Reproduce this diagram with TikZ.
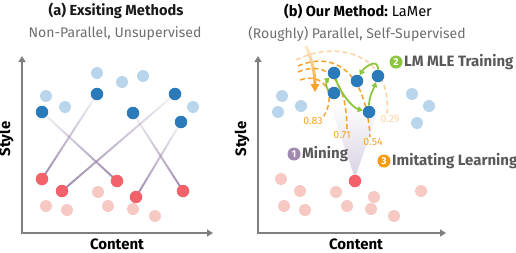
\documentclass[tikz,border=0pt]{standalone}
\usepackage{fontspec}
\setmainfont{Fira Sans}
\usetikzlibrary{arrows.meta,fadings,calc}
\definecolor{dblue}{HTML}{2B7BBA}
\definecolor{lblue}{HTML}{B9D5EC}
\definecolor{dred}{HTML}{F3616B}
\definecolor{pink}{HTML}{F7C9C3}
\definecolor{axgray}{HTML}{7F7F7F}
\definecolor{conn}{HTML}{9B86AE}
\definecolor{orA}{HTML}{F5A32A}
\definecolor{orL}{HTML}{FDD3A2}
\definecolor{grn}{HTML}{8CC63F}
\definecolor{purc}{HTML}{A08AB0}
\definecolor{orc}{HTML}{F39C12}
\definecolor{lblgray}{HTML}{595959}
\definecolor{subgray}{HTML}{6E6E6E}
\definecolor{lav}{HTML}{D8D2E2}
\tikzfading[name=fadeconn, top color=transparent!92, bottom color=transparent!0]
\tikzfading[name=fadearr, top color=transparent!80, bottom color=transparent!0]
\begin{document}
\begin{tikzpicture}[x=1pt,y=-1pt,
  dotd/.style={circle,fill=dblue,minimum size=12.5pt,inner sep=0pt},
  dotl/.style={circle,fill=lblue,minimum size=12pt,inner sep=0pt},
  dotr/.style={circle,fill=dred,minimum size=12.5pt,inner sep=0pt},
  dotp/.style={circle,fill=pink,minimum size=12pt,inner sep=0pt},
  axisline/.style={draw=axgray,line width=2pt,{Triangle[length=6pt,width=7pt]}-{Triangle[length=6pt,width=7pt]}},
  axlabel/.style={font=\fontsize{15}{15}\selectfont\bfseries,text=black,inner sep=0pt},
  ttl/.style={font=\fontsize{14.6}{15}\selectfont\bfseries,text=black!90,inner sep=0pt},
  subttl/.style={font=\fontsize{14}{14}\selectfont,text=subgray,inner sep=0pt},
  connector/.style={draw=conn,line width=2pt,path fading=fadeconn},
  garrow/.style={draw=grn,line width=1.8pt,-{Triangle[length=5pt,width=6pt]}},
  oarc/.style={draw=orA,line width=1.5pt,dash pattern=on 5pt off 3pt},
  oarcl/.style={draw=orL,line width=1.5pt,dash pattern=on 5pt off 3pt},
  score/.style={font=\fontsize{10.5}{10.5}\selectfont,text=orA,inner sep=0pt},
  numc/.style={circle,minimum size=13pt,inner sep=0pt,text=white,font=\fontsize{10}{10}\selectfont\bfseries},
  steplabel/.style={font=\fontsize{15}{15}\selectfont\bfseries,text=lblgray,inner sep=0pt,anchor=west}
]
\useasboundingbox (0,0) rectangle (516,252);

%% ---------------- Panel (a) ----------------
\node[ttl] (ta) at (116,11) {(a) Exsiting Methods};
\node[subttl] (sa) at (115,34) {Non-Parallel, Unsupervised};
\coordinate (ayt) at (22,56);
\coordinate (ao) at (22,233);
\coordinate (axt) at (213,233);
\draw[axisline] (ayt) -- (ao) -- (axt);
\node[axlabel,rotate=90] (stya) at (6,139) {Style};
\node[axlabel] (cona) at (117,244) {Content};

% connector endpoints (coordinates at dot centres)
\coordinate (ca1) at (42,112);
\coordinate (ca2) at (97,94);
\coordinate (ca3) at (133,113);
\coordinate (ca4) at (175,94);
\coordinate (ca5) at (181,122);
\coordinate (cr1) at (42,179);
\coordinate (cr2) at (62,191);
\coordinate (cr3) at (117,181);
\coordinate (cr4) at (136,197);
\coordinate (cr5) at (183,191);
\draw[connector] (ca1) -- (cr3);
\draw[connector] (ca2) -- (cr1);
\draw[connector] (ca4) -- (cr2);
\draw[connector] (ca3) -- (cr5);
\draw[connector] (ca5) -- (cr4);

\node[dotl] (la1) at (46,96) {};
\node[dotl] (la2) at (65,107) {};
\node[dotl] (la3) at (97,73) {};
\node[dotl] (la4) at (122,82) {};
\node[dotl] (la5) at (143,76) {};
\node[dotl] (la6) at (193,107) {};
\node[dotd] (a1) at (ca1) {};
\node[dotd] (a2) at (ca2) {};
\node[dotd] (a3) at (ca3) {};
\node[dotd] (a4) at (ca4) {};
\node[dotd] (a5) at (ca5) {};
\node[dotp] (pa1) at (46,206) {};
\node[dotp] (pa2) at (67,210) {};
\node[dotp] (pa3) at (98,192) {};
\node[dotp] (pa4) at (108,206) {};
\node[dotp] (pa5) at (133,209) {};
\node[dotp] (pa6) at (155,216) {};
\node[dotr] (r1) at (cr1) {};
\node[dotr] (r2) at (cr2) {};
\node[dotr] (r3) at (cr3) {};
\node[dotr] (r4) at (cr4) {};
\node[dotr] (r5) at (cr5) {};

%% ---------------- Panel (b) ----------------
\node[inner sep=0pt] (tb) at (358,11) {\fontsize{14.6}{15}\selectfont\bfseries (b) Our Method:\mdseries\ LaMer};
\node[subttl] (sb) at (357,34) {(Roughly) Parallel, Self-Supervised};
\coordinate (byt) at (258,56);
\coordinate (bo) at (258,233);
\coordinate (bxt) at (446,233);
\draw[axisline] (byt) -- (bo) -- (bxt);
\node[axlabel,rotate=90] (styb) at (242,139) {Style};
\node[axlabel] (conb) at (356,244) {Content};

% mining cone
\shade[top color=white,bottom color=lav] (355,178) -- (329,102) -- (381,102) -- cycle;

% score labels
\node[score] (l83) at (313,121) {0.83};
\node[score] (l71) at (342,135) {0.71};
\node[score] (l54) at (373,142) {0.54};
\node[score,text=orL] (l29) at (390,119) {0.29};

% dashed arcs
\coordinate (s1) at (296,60);
\coordinate (s2) at (298,66);
\coordinate (s3) at (298,72);
\coordinate (s4) at (300,80);
\draw[oarcl] (s1) .. controls (335,40) and (392,52) .. ($(l29.north)+(-3,-1)$);
\draw[oarc] (s2) .. controls (330,52) and (366,66) .. ($(l54.north)+(-3,-1)$);
\draw[oarc] (s3) .. controls (326,60) and (347,78) .. ($(l71.north)+(5,-1)$);
\draw[oarc] (s4) .. controls (322,72) and (338,92) .. ($(l83.north east)+(1,-1)$);

% orange sweeping arrow
\coordinate (oa1) at (306,46);
\coordinate (oa2) at (315,92);
\draw[draw=orA,line width=3pt,path fading=fadearr] (oa1) .. controls (311,58) and (315,70) .. ($(oa2)+(0,-6)$);
\draw[draw=none,fill=orA] (oa2) -- ($(oa2)+(-4.5,-8)$) -- ($(oa2)+(4.5,-8)$) -- cycle;

% dots
\node[dotl] (lb1) at (282,96) {};
\node[dotl] (lb2) at (278,112) {};
\node[dotl] (lb3) at (301,106) {};
\node[dotl] (lb4) at (412,94) {};
\node[dotl] (lb5) at (429,106) {};
\node[dotl] (lb6) at (417,123) {};
\node[dotd] (b1) at (334,73) {};
\node[dotd] (b2) at (334,93) {};
\node[dotd] (b3) at (357,81) {};
\node[dotd] (b4) at (378,76) {};
\node[dotd] (b5) at (369,112) {};
\node[dotp] (pb1) at (281,179) {};
\node[dotp] (pb2) at (300,191) {};
\node[dotp] (pb3) at (336,192) {};
\node[dotp] (pb4) at (284,206) {};
\node[dotp] (pb5) at (305,210) {};
\node[dotp] (pb6) at (347,206) {};
\node[dotp] (pb7) at (374,197) {};
\node[dotp] (pb8) at (371,209) {};
\node[dotp] (pb9) at (394,216) {};
\node[dotp] (pb10) at (421,191) {};
\node[dotr] (rb) at (355,181) {};

% green LM training arrows
\draw[garrow] (b2) .. controls +(-9,-5) and +(-7,7) .. (b1);
\draw[garrow] (b1) .. controls +(6,20) and +(-16,-4) .. (b5);
\draw[garrow] (b5) .. controls +(0,-16) and +(-4,12) .. (b4);
\draw[garrow] (b4) .. controls +(0,-20) and +(6,-12) .. (b3);

% step labels
\node[numc,fill=grn] (n2) at (396,62) {2};
\node[steplabel] (t2) at (404,62) {LM MLE Training};
\node[numc,fill=purc] (n1) at (294,154) {1};
\node[steplabel] (t1) at (302,154) {Mining};
\node[numc,fill=orc] (n3) at (384,161) {3};
\node[steplabel] (t3) at (392,161) {Imitating Learning};
\end{tikzpicture}
\end{document}
